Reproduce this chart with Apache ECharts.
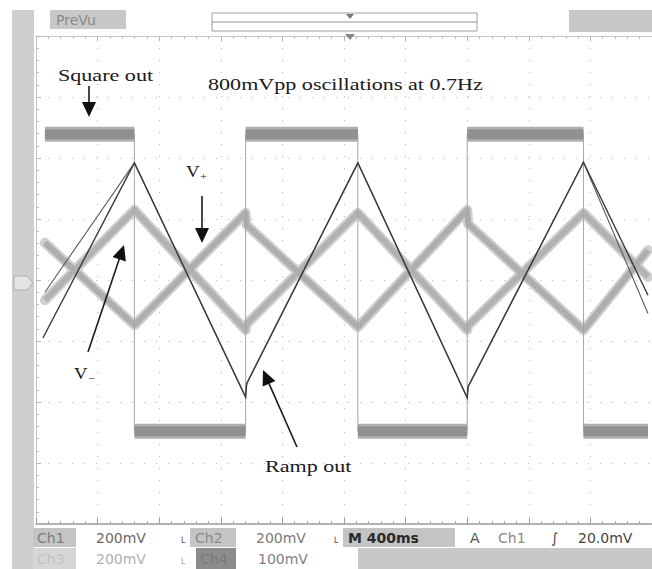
<!DOCTYPE html>
<html>
<head>
<meta charset="utf-8">
<script src="https://cdn.jsdelivr.net/npm/echarts@6/dist/echarts.min.js"></script>
<style>
  html, body { margin: 0; padding: 0; background: #ffffff; }
  #chart { width: 652px; height: 569px; }
</style>
</head>
<body>
<div id="chart"></div>
<script>
// ---- data (time in s, amplitude in divisions) ----
const squareEdges = [0.058, 0.639, 1.361, 2.090, 2.800, 3.555, 3.974];
const squareHigh = 2.39;
const squareLow = -2.48;

const rampA = [[0.045,-0.95],[0.639,1.92],[1.361,-1.92],[1.368,-1.70],[2.090,1.92],[2.800,-1.93],[2.806,-1.75],[3.555,1.93],[3.974,-0.25]];
const rampB = [[0.058,-0.20],[0.639,1.92],[1.361,-1.92],[1.368,-1.70],[2.090,1.92],[2.800,-1.93],[2.806,-1.75],[3.555,1.93],[3.974,-0.55]];
const vPlus  = [[0.058,0.61],[0.639,-0.74],[1.361,1.10],[1.368,0.90],[2.090,-0.77],[2.800,1.15],[2.806,0.92],[3.555,-0.82],[3.974,0.49]];
const vMinus = [[0.058,-0.33],[0.639,1.15],[1.361,-0.82],[1.368,-0.72],[2.090,1.10],[2.800,-0.82],[2.806,-0.75],[3.555,1.10],[3.974,0.05]];

const timePerDiv = 0.4;
const divsX = 10;
const divsY = 4;

// status bar texts
const statusRow1 = ['Ch1', '200mV', 'Ch2', '200mV', 'M 400ms', 'A', 'Ch1', '\u222B', '20.0mV'];
const statusRow2 = ['Ch3', '200mV', 'Ch4', '100mV'];

// ---- build square wave from the edges ----
const squareThin = [];
const squareBand = [];
for (let i = 0; i < squareEdges.length - 1; i++) {
  const lvl = (i % 2 === 0) ? squareHigh : squareLow;
  squareThin.push([squareEdges[i], lvl], [squareEdges[i + 1], lvl]);
  if (i > 0) squareBand.push('-');
  squareBand.push([squareEdges[i], lvl], [squareEdges[i + 1], lvl]);
}

const chart = echarts.init(document.getElementById('chart'), null, { renderer: 'svg' });

const serif = 'Liberation Serif, Times New Roman, serif';
const sans = 'DejaVu Sans, sans-serif';

function arrow(x1, y1, x2, y2) {
  const dx = x2 - x1, dy = y2 - y1;
  const L = Math.hypot(dx, dy);
  const ux = dx / L, uy = dy / L;
  const hl = 15, hw = 7;
  const bx = x2 - ux * hl, by = y2 - uy * hl;
  const px = -uy, py = ux;
  return [
    { type: 'line', z: 100, shape: { x1: x1, y1: y1, x2: bx + ux * 2, y2: by + uy * 2 }, style: { stroke: '#1a1a1a', lineWidth: 1.6 } },
    { type: 'polygon', z: 100, shape: { points: [[x2, y2], [bx + px * hw, by + py * hw], [bx - px * hw, by - py * hw]] }, style: { fill: '#111' } }
  ];
}

function label(text, x, y, size, sx) {
  return {
    type: 'text', z: 100, x: x, y: y, scaleX: sx,
    style: { text: text, x: 0, y: 0, font: size + 'px ' + serif, fill: '#1a1a1a', textVerticalAlign: 'top', textAlign: 'left' }
  };
}

function stext(text, x, y, color, weight) {
  return { type: 'text', z: 50, x: x, y: y,
    style: { text: text, x: 0, y: 0, font: (weight || 'normal') + ' 14px ' + sans, fill: color, textVerticalAlign: 'middle', textAlign: 'left' } };
}

const graphics = [
  // left gray strip
  { type: 'rect', z: -5, shape: { x: 12, y: 10, width: 22, height: 559 }, style: { fill: '#cfcfcf' } },
  // channel marker
  { type: 'polygon', z: 5, shape: { points: [[14, 276], [27, 276], [33, 283], [27, 290], [14, 290]] }, style: { fill: '#e4e4e4', stroke: '#b0b0b0', lineWidth: 1 } },
  // top bar
  { type: 'rect', z: -5, shape: { x: 50, y: 10, width: 76, height: 19 }, style: { fill: '#c8c8c8' } },
  { type: 'text', z: 5, x: 56, y: 20, style: { text: 'PreVu', x: 0, y: 0, font: '14px ' + sans, fill: '#8a8a8a', textVerticalAlign: 'middle' } },
  { type: 'rect', z: -5, shape: { x: 212, y: 13, width: 265, height: 18 }, style: { fill: '#fff', stroke: '#a0a0a0', lineWidth: 1 } },
  { type: 'line', z: 5, shape: { x1: 212, y1: 22, x2: 477, y2: 22 }, style: { stroke: '#909090', lineWidth: 1 } },
  { type: 'polygon', z: 5, shape: { points: [[346, 14], [354, 14], [350, 19]] }, style: { fill: '#777' } },
  { type: 'polygon', z: 5, shape: { points: [[345, 34], [355, 34], [350, 40]] }, style: { fill: '#888' } },
  { type: 'rect', z: -5, shape: { x: 569, y: 10, width: 83, height: 22 }, style: { fill: '#c8c8c8' } },

  // bottom status bar row 1
  { type: 'rect', z: -5, shape: { x: 33, y: 528, width: 43, height: 19 }, style: { fill: '#c4c4c4' } },
  { type: 'rect', z: -5, shape: { x: 190, y: 528, width: 46, height: 19 }, style: { fill: '#c4c4c4' } },
  { type: 'rect', z: -5, shape: { x: 343, y: 528, width: 112, height: 19 }, style: { fill: '#c4c4c4' } },
  stext(statusRow1[0], 37, 538, '#7c7c7c'),
  stext(statusRow1[1], 96, 538, '#6a6a6a'),
  stext('\u02EA', 181, 538, '#6a6a6a'),
  stext(statusRow1[2], 195, 538, '#8a8a8a'),
  stext(statusRow1[3], 256, 538, '#7a7a7a'),
  stext('\u02EA', 334, 538, '#6a6a6a'),
  stext(statusRow1[4], 348, 538, '#2a2a2a', 'bold'),
  stext(statusRow1[5], 470, 538, '#555'),
  stext(statusRow1[6], 498, 538, '#8a8a8a'),
  stext(statusRow1[7], 551, 538, '#444'),
  stext(statusRow1[8], 578, 538, '#444'),
  // row 2
  { type: 'rect', z: -5, shape: { x: 33, y: 548, width: 43, height: 21 }, style: { fill: '#d6d6d6' } },
  { type: 'rect', z: -5, shape: { x: 196, y: 548, width: 40, height: 21 }, style: { fill: '#8c8c8c' } },
  { type: 'rect', z: -5, shape: { x: 358, y: 548, width: 294, height: 21 }, style: { fill: '#c8c8c8' } },
  stext(statusRow2[0], 37, 559, '#c2c2c2'),
  stext(statusRow2[1], 96, 559, '#b0b0b0'),
  stext('\u02EA', 181, 559, '#b0b0b0'),
  stext(statusRow2[2], 200, 559, '#7a7a7a'),
  stext(statusRow2[3], 258, 559, '#808080'),

  // annotations
  label('Square out', 58, 66, 17, 1.3),
  label('800mVpp oscillations at 0.7Hz', 208, 75, 17, 1.3),
  label('V', 186, 163, 17, 1.1),
  label('+', 200, 171, 11, 1.1),
  label('V', 74, 365, 17, 1.1),
  label('\u2212', 88, 373, 11, 1.1),
  label('Ramp out', 265, 457, 17, 1.3)
].concat(
  arrow(89, 86, 89, 117),
  arrow(202, 196, 202, 243),
  arrow(88, 352, 124, 245),
  arrow(297, 447, 263, 370)
);

const gridLine = { show: true, lineStyle: { color: '#bdbdbd', width: 1, type: [1.2, 10.8] } };

const option = {
  animation: false,
  backgroundColor: '#ffffff',
  grid: { left: 36, right: -4, top: 36, bottom: 45, containLabel: false },
  xAxis: [
    { type: 'value', min: 0, max: divsX * timePerDiv, interval: timePerDiv, position: 'bottom',
      axisLine: { show: true, onZero: false, lineStyle: { color: '#9a9a9a', width: 1.5 } },
      axisTick: { show: true, inside: true, length: 6, lineStyle: { color: '#9a9a9a' } },
      minorTick: { show: true, splitNumber: 5, length: 3, lineStyle: { color: '#a8a8a8' } },
      axisLabel: { show: false }, splitLine: gridLine },
    { type: 'value', min: 0, max: divsX * timePerDiv, interval: timePerDiv, position: 'top',
      axisLine: { show: true, onZero: false, lineStyle: { color: '#c4c4c4', width: 1 } },
      axisTick: { show: true, inside: true, length: 5, lineStyle: { color: '#b4b4b4' } },
      minorTick: { show: true, splitNumber: 5, length: 3, lineStyle: { color: '#bdbdbd' } },
      axisLabel: { show: false }, splitLine: { show: false } }
  ],
  yAxis: [
    { type: 'value', min: -divsY, max: divsY, interval: 1, position: 'left',
      axisLine: { show: true, onZero: false, lineStyle: { color: '#c4c4c4', width: 1 } },
      axisTick: { show: true, inside: true, length: 5, lineStyle: { color: '#b4b4b4' } },
      minorTick: { show: true, splitNumber: 5, length: 3, lineStyle: { color: '#bdbdbd' } },
      axisLabel: { show: false }, splitLine: gridLine }
  ],
  graphic: graphics,
  series: [
    { name: 'V- halo', type: 'line', data: vMinus, symbol: 'none', z: 2, silent: true,
      lineStyle: { color: '#d0d0d0', width: 10, join: 'round', cap: 'round' } },
    { name: 'V+ halo', type: 'line', data: vPlus, symbol: 'none', z: 2, silent: true,
      lineStyle: { color: '#d0d0d0', width: 10, join: 'round', cap: 'round' } },
    { name: 'V-', type: 'line', data: vMinus, symbol: 'none', z: 2,
      lineStyle: { color: '#b2b2b2', width: 6, join: 'round' } },
    { name: 'V+', type: 'line', data: vPlus, symbol: 'none', z: 2,
      lineStyle: { color: '#aeaeae', width: 6, join: 'round' } },
    { name: 'Square out edges', type: 'line', data: squareThin, symbol: 'none', z: 3,
      lineStyle: { color: '#a6a6a6', width: 1 } },
    { name: 'Square out halo', type: 'line', data: squareBand, symbol: 'none', z: 3, connectNulls: false, silent: true,
      lineStyle: { color: '#b0b0b0', width: 15, cap: 'butt' } },
    { name: 'Square out', type: 'line', data: squareBand, symbol: 'none', z: 3, connectNulls: false,
      lineStyle: { color: '#909090', width: 10, cap: 'butt' } },
    { name: 'Ramp out 2', type: 'line', data: rampB, symbol: 'none', z: 4,
      lineStyle: { color: '#5a5a5a', width: 1.1, join: 'miter' } },
    { name: 'Ramp out', type: 'line', data: rampA, symbol: 'none', z: 4,
      lineStyle: { color: '#3c3c3c', width: 1.4, join: 'miter' } }
  ]
};
chart.setOption(option);
</script>
</body>
</html>
